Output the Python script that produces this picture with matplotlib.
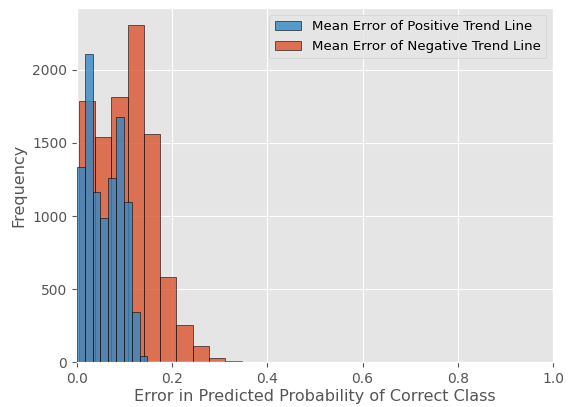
import numpy as np
import matplotlib
matplotlib.use("Agg")
import matplotlib.pyplot as plt

plt.style.use("ggplot")

# Bin edges
pos_edges = np.linspace(0.0, 0.148, 10)
neg_edges = np.linspace(0.0035, 0.346, 11)

# Counts per bin
pos_counts = [1334, 2109, 1163, 985, 1263, 1680, 1096, 342, 41]
neg_counts = [1787, 1543, 1812, 2305, 1562, 586, 255, 114, 27, 11]

labels = ["Mean Error of Positive Trend Line", "Mean Error of Negative Trend Line"]
xlabel = "Error in Predicted Probability of Correct Class"
ylabel = "Frequency"

fig = plt.figure(figsize=(5.72, 4.07), dpi=100)
ax = fig.add_axes([0.1346, 0.1098, 0.8322, 0.870])

pos_centers = (pos_edges[:-1] + pos_edges[1:]) / 2
neg_centers = (neg_edges[:-1] + neg_edges[1:]) / 2

ax.hist(pos_centers, bins=pos_edges, weights=pos_counts, alpha=0.8,
        edgecolor="black", color="#3488C4", label=labels[0], zorder=3)
ax.hist(neg_centers, bins=neg_edges, weights=neg_counts, alpha=0.8,
        edgecolor="black", color="#D9532F", label=labels[1], zorder=2)

ax.set_xlim(0, 1)
ax.set_xlabel(xlabel, fontsize=11.5, labelpad=2)
ax.set_ylabel(ylabel, fontsize=11.5)
ax.legend(loc="upper right", fontsize=9.6)

fig.savefig("out.png", dpi=100)
